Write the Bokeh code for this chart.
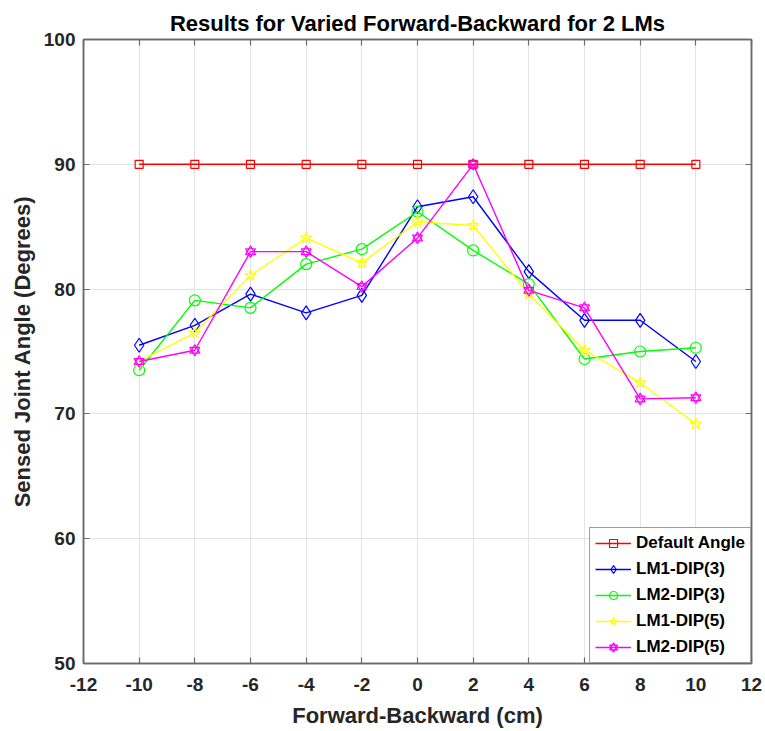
from bokeh.plotting import figure
from bokeh.models import Range1d, FixedTicker, LinearAxis, Legend, LegendItem
from bokeh.embed import file_html
from bokeh.resources import INLINE

# Forward-backward offsets (cm)
x_cm = [-10, -8, -6, -4, -2, 0, 2, 4, 6, 8, 10]

# Sensed joint angles (degrees)
default_angle = [90, 90, 90, 90, 90, 90, 90, 90, 90, 90, 90]
lm1_dip3 = [75.5, 77.1, 79.6, 78.1, 79.5, 86.6, 87.4, 81.4, 77.5, 77.5, 74.2]
lm2_dip3 = [73.5, 79.1, 78.5, 82.0, 83.2, 86.2, 83.1, 80.4, 74.4, 75.0, 75.3]
lm1_dip5 = [74.2, 76.5, 81.1, 84.1, 82.1, 85.4, 85.1, 79.6, 75.1, 72.5, 69.2]
lm2_dip5 = [74.2, 75.1, 83.0, 83.0, 80.2, 84.1, 90.0, 79.9, 78.5, 71.2, 71.3]

# Axis ticks
x_ticks = [-12, -10, -8, -6, -4, -2, 0, 2, 4, 6, 8, 10, 12]
x_tick_labels = ["-12", "-10", "-8", "-6", "-4", "-2", "0", "2", "4", "6", "8", "10", "12"]
y_ticks = [50, 60, 70, 80, 90, 100]
y_tick_labels = ["50", "60", "70", "80", "90", "100"]

FONT = "Liberation Sans"
TEXT = "#262626"
AXIS = "#6a6a6a"

p = figure(width=765, height=731, output_backend="svg", toolbar_location=None,
           x_range=Range1d(-12, 12), y_range=Range1d(50, 100),
           min_border_left=83, min_border_right=14, min_border_top=39,
           min_border_bottom=68,
           title="Results for Varied Forward-Backward for 2 LMs")

p.title.text_font = FONT
p.title.text_font_size = "22px"
p.title.text_font_style = "bold"
p.title.text_color = "black"
p.title.align = "center"
p.title.standoff = 8

p.background_fill_color = "white"
p.border_fill_color = "white"
p.outline_line_color = AXIS
p.outline_line_width = 1.5

def style_axis(ax, ticks, labels, show_labels=True):
    ax.ticker = FixedTicker(ticks=ticks)
    ax.major_label_overrides = {t: l for t, l in zip(ticks, labels)}
    ax.minor_tick_line_color = None
    ax.major_tick_in = 6
    ax.major_tick_out = 0
    ax.major_tick_line_color = AXIS
    ax.major_tick_line_width = 1.2
    ax.axis_line_color = AXIS
    ax.axis_line_width = 1.5
    ax.major_label_text_font = FONT
    ax.major_label_text_font_style = "bold"
    ax.major_label_text_color = TEXT
    if show_labels:
        ax.major_label_text_font_size = "19px"
    else:
        ax.major_label_text_font_size = "0px"
        ax.major_label_standoff = 0

xa = p.xaxis[0]
style_axis(xa, x_ticks, x_tick_labels)
xa.major_label_standoff = 14
xa.axis_label = "Forward-Backward (cm)"
xa.axis_label_standoff = 9

ya = p.yaxis[0]
style_axis(ya, y_ticks, y_tick_labels)
ya.major_label_standoff = 8
ya.axis_label = "Sensed Joint Angle (Degrees)"
ya.axis_label_standoff = 6

for ax in (xa, ya):
    ax.axis_label_text_font = FONT
    ax.axis_label_text_font_size = "22px"
    ax.axis_label_text_font_style = "bold"
    ax.axis_label_text_color = TEXT

# Box ticks on the top and right edges
top_ax = LinearAxis()
style_axis(top_ax, x_ticks, ["" for _ in x_ticks], show_labels=False)
p.add_layout(top_ax, "above")
right_ax = LinearAxis()
style_axis(right_ax, y_ticks, ["" for _ in y_ticks], show_labels=False)
p.add_layout(right_ax, "right")

p.xgrid.ticker = FixedTicker(ticks=x_ticks)
p.ygrid.ticker = FixedTicker(ticks=y_ticks)
p.grid.grid_line_color = "#e3e3e3"
p.grid.grid_line_width = 1

LW = 1.4

r0l = p.line(x_cm, default_angle, line_color="#ff0000", line_width=LW)
r0m = p.scatter(x_cm, default_angle, marker="square", size=8, fill_color=None,
                line_color="#ff0000", line_width=1.2)

r1l = p.line(x_cm, lm1_dip3, line_color="#0000ff", line_width=LW)
r1m = p.scatter(x_cm, lm1_dip3, marker="diamond", size=14, fill_color=None,
                line_color="#0000ff", line_width=1.2)

r2l = p.line(x_cm, lm2_dip3, line_color="#00ff00", line_width=LW)
r2m = p.scatter(x_cm, lm2_dip3, marker="circle", size=11, fill_color=None,
                line_color="#00ff00", line_width=1.2)

r3l = p.line(x_cm, lm1_dip5, line_color="#ffff00", line_width=LW)
r3m = p.scatter(x_cm, lm1_dip5, marker="star", size=12, fill_color=None,
                line_color="#ffff00", line_width=1.2)

# Hexagram markers: two overlaid triangles
r4l = p.line(x_cm, lm2_dip5, line_color="#ff00ff", line_width=LW)
r4a = p.scatter(x_cm, lm2_dip5, marker="triangle", size=10, fill_color=None,
                line_color="#ff00ff", line_width=1.2)
r4b = p.scatter(x_cm, lm2_dip5, marker="inverted_triangle", size=10, fill_color=None,
                line_color="#ff00ff", line_width=1.2)

legend = Legend(items=[
    LegendItem(label="Default Angle", renderers=[r0l, r0m]),
    LegendItem(label="LM1-DIP(3)", renderers=[r1l, r1m]),
    LegendItem(label="LM2-DIP(3)", renderers=[r2l, r2m]),
    LegendItem(label="LM1-DIP(5)", renderers=[r3l, r3m]),
    LegendItem(label="LM2-DIP(5)", renderers=[r4l, r4a, r4b]),
], location="bottom_right")
legend.margin = 0
legend.padding = 5
legend.spacing = 6
legend.glyph_width = 36
legend.glyph_height = 20
legend.label_height = 20
legend.label_standoff = 5
legend.label_text_font = FONT
legend.label_text_font_size = "17px"
legend.label_text_font_style = "bold"
legend.label_text_color = "black"
legend.border_line_color = "#3a3a3a"
legend.border_line_width = 1
legend.background_fill_color = "white"
legend.background_fill_alpha = 1
p.add_layout(legend, "center")

open("out.html", "w").write(file_html(p, INLINE))
